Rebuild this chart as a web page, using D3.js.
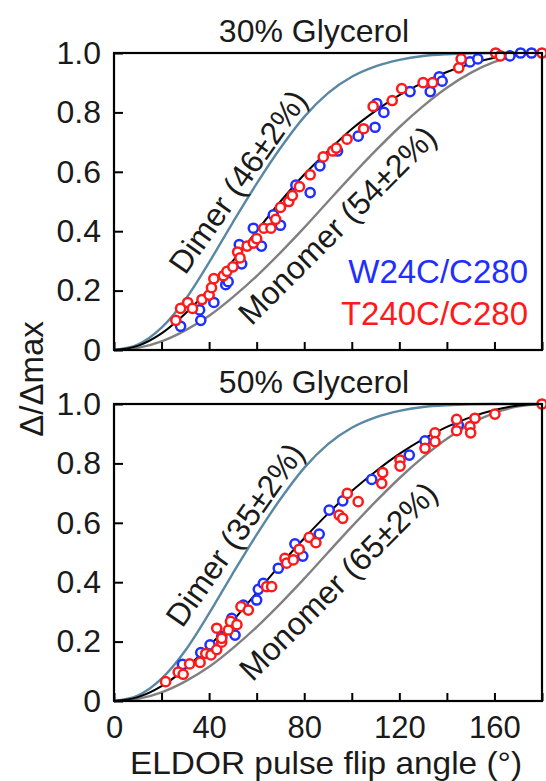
<!DOCTYPE html>
<html>
<head>
<meta charset="utf-8">
<script src="https://d3js.org/d3.v7.min.js"></script>
<style>
body { margin: 0; background: #fff; }
text { font-family: "Liberation Sans", Arial, sans-serif; fill: #1a1a1a; }
</style>
</head>
<body>
<script>
// axis ticks
var xTicks = [0, 20, 40, 60, 80, 100, 120, 140, 160, 180];
var xLabels = [0, 40, 80, 120, 160];
var yTicks = [0, 0.2, 0.4, 0.6, 0.8, 1.0];
var yLabels = ["0", "0.2", "0.4", "0.6", "0.8", "1.0"];

// simulated curves (every 10 deg)
var curveAngles = [0, 10, 20, 30, 40, 50, 60, 70, 80, 90, 100, 110, 120, 130, 140, 150, 160, 170, 180];
var dimerCurve = [0, 0.018, 0.075, 0.17, 0.295, 0.43, 0.56, 0.68, 0.785, 0.865, 0.92, 0.955, 0.977, 0.99, 0.996, 0.999, 1, 1, 1];
var monomerCurve = [0, 0.007, 0.029, 0.066, 0.115, 0.178, 0.249, 0.328, 0.412, 0.5, 0.587, 0.671, 0.75, 0.821, 0.883, 0.933, 0.97, 0.992, 1];
var fit30 = [0, 0.014, 0.056, 0.123, 0.206, 0.30, 0.40, 0.50, 0.591, 0.67, 0.744, 0.805, 0.858, 0.90, 0.936, 0.964, 0.984, 0.996, 1];
var fit50 = [0, 0.013, 0.050, 0.109, 0.185, 0.27, 0.365, 0.459, 0.548, 0.631, 0.707, 0.773, 0.832, 0.882, 0.923, 0.956, 0.98, 0.995, 1];

// 30% glycerol data [angle, value]
var w24c30 = [[28, 0.08], [36.5, 0.10], [36, 0.135], [42, 0.16], [47, 0.22], [48, 0.23], [53.7, 0.29], [52.7, 0.355],
  [58.6, 0.41], [62, 0.35], [67, 0.455], [70, 0.42], [76.5, 0.555], [82.5, 0.53], [86.6, 0.62], [94, 0.67],
  [102.7, 0.72], [109.8, 0.75], [110.5, 0.83], [113.5, 0.80], [124.5, 0.87], [133, 0.87], [136.8, 0.92],
  [138, 0.905], [149.7, 0.97], [153, 0.98], [166.5, 0.99], [171, 1.0], [175.6, 1.0]];
var t240c30 = [[26, 0.10], [28, 0.14], [31, 0.16], [33, 0.14], [37, 0.17], [40, 0.185], [41, 0.21], [42, 0.24],
  [46, 0.25], [47.5, 0.265], [50, 0.28], [52, 0.33], [53, 0.31], [56, 0.35], [58.6, 0.36], [60, 0.375],
  [63, 0.41], [66, 0.41], [68, 0.44], [70, 0.48], [73.5, 0.50], [75, 0.52], [78, 0.55], [82.5, 0.59],
  [88, 0.65], [92, 0.67], [93.5, 0.68], [98, 0.71], [105, 0.745], [109, 0.82], [117, 0.84], [121, 0.88],
  [130, 0.90], [134, 0.90], [145, 0.95], [146, 0.98], [160.5, 1.0], [162.5, 0.99], [180, 1.0]];

// 50% glycerol data
var w24c50 = [[28.8, 0.123], [36.5, 0.163], [40.4, 0.189], [45.3, 0.217], [49.5, 0.278], [50.9, 0.222],
  [54.4, 0.323], [60, 0.34], [60.7, 0.376], [62.8, 0.396], [69.1, 0.447], [76.1, 0.529], [79.4, 0.488],
  [86.3, 0.562], [90.5, 0.643], [96.2, 0.674], [108.4, 0.746], [124.2, 0.828], [130.8, 0.876], [144.8, 0.929]];
var t240c50 = [[21.7, 0.065], [27, 0.097], [29.1, 0.09], [31.8, 0.125], [36.2, 0.13], [38.6, 0.16], [40.8, 0.155],
  [43.2, 0.173], [43.2, 0.245], [45.3, 0.198], [45.3, 0.211], [48.1, 0.239], [49, 0.268], [51.7, 0.257],
  [53.4, 0.318], [56.5, 0.306], [64.2, 0.385], [66.3, 0.385], [71.9, 0.48], [72.6, 0.464], [75.4, 0.475],
  [77.9, 0.511], [82.1, 0.551], [84.9, 0.533], [94.7, 0.626], [96.2, 0.615], [98.1, 0.699], [102.7, 0.671],
  [112.6, 0.733], [113, 0.769], [120.3, 0.811], [120.3, 0.791], [130.8, 0.851], [135, 0.903], [135, 0.873],
  [144.1, 0.948], [144.1, 0.91], [149.7, 0.924], [150, 0.903], [151.8, 0.952], [160.2, 0.966], [180, 1.0]];

var blue = "#1f2fff";
var red = "#ff1a1a";
var dimerColor = "#5a88a4";
var monomerColor = "#808080";
var fontSize = 32;

var svg = d3.select('body').append('svg')
        .attr('width', 546)
        .attr('height', 781);

var x = d3.scaleLinear().domain([0, 180]).range([114, 542]);

function drawPanel(top, bottom, title, fitVals, blueData, redData, dimerText, dimerPos, monoText, monoPos, showXLabels) {
    var y = d3.scaleLinear().domain([0, 1]).range([bottom, top]);
    var g = svg.append('g');

    var line = d3.line()
            .x(function(d) { return x(d[0]); })
            .y(function(d) { return y(d[1]); })
            .curve(d3.curveMonotoneX);

    function pairs(vals) {
        return curveAngles.map(function(a, i) { return [a, vals[i]]; });
    }

    // curves
    g.append('path').attr('d', line(pairs(dimerCurve)))
        .attr('fill', 'none').attr('stroke', dimerColor).attr('stroke-width', 2.4);
    g.append('path').attr('d', line(pairs(monomerCurve)))
        .attr('fill', 'none').attr('stroke', monomerColor).attr('stroke-width', 2.4);
    g.append('path').attr('d', line(pairs(fitVals)))
        .attr('fill', 'none').attr('stroke', '#000').attr('stroke-width', 2);

    // data circles
    g.selectAll('circle.b').data(blueData).enter().append('circle')
        .attr('cx', function(d) { return x(d[0]); })
        .attr('cy', function(d) { return y(d[1]); })
        .attr('r', 4.6)
        .attr('fill', '#fff')
        .attr('stroke', blue)
        .attr('stroke-width', 2.5);
    g.selectAll('circle.r').data(redData).enter().append('circle')
        .attr('cx', function(d) { return x(d[0]); })
        .attr('cy', function(d) { return y(d[1]); })
        .attr('r', 4.6)
        .attr('fill', '#fff')
        .attr('stroke', red)
        .attr('stroke-width', 2.5);

    // axes with inward ticks
    var xAxis = d3.axisBottom(x).tickValues(xTicks).tickSize(-8).tickPadding(15)
        .tickFormat(function(d) { return (showXLabels && xLabels.indexOf(d) >= 0) ? d : ''; });
    var gx = g.append('g').attr('transform', 'translate(0,' + bottom + ')').call(xAxis);
    var yAxis = d3.axisLeft(y).tickValues(yTicks).tickSize(-9).tickPadding(13)
        .tickFormat(function(d, i) { return yLabels[i]; });
    var gy = g.append('g').attr('transform', 'translate(114,0)').call(yAxis);
    [gx, gy].forEach(function(a) {
        a.select('.domain').remove();
        a.selectAll('line').attr('stroke', '#000').attr('stroke-width', 2);
        a.attr('font-size', fontSize).attr('font-family', '"Liberation Sans", Arial, sans-serif');
        a.selectAll('text').attr('fill', '#1a1a1a');
    });
    gx.attr('font-size', 31);

    // frame
    g.append('rect')
        .attr('x', 114).attr('y', top)
        .attr('width', 542 - 114).attr('height', bottom - top)
        .attr('fill', 'none').attr('stroke', '#000').attr('stroke-width', 2.2);

    // title
    g.append('text').text(title)
        .attr('x', 314).attr('y', top - 11)
        .attr('text-anchor', 'middle')
        .attr('font-size', fontSize);

    // curve labels
    g.append('text').text(dimerText)
        .attr('text-anchor', 'middle')
        .attr('font-size', fontSize)
        .attr('transform', 'translate(' + dimerPos[0] + ',' + dimerPos[1] + ') rotate(-55)');
    g.append('text').text(monoText)
        .attr('text-anchor', 'middle')
        .attr('font-size', fontSize)
        .attr('transform', 'translate(' + monoPos[0] + ',' + monoPos[1] + ') rotate(-45)');
}

drawPanel(53, 350, '30% Glycerol', fit30, w24c30, t240c30,
    'Dimer (46\u00b12%)', [247, 188], 'Monomer (54\u00b12%)', [345, 233], false);
drawPanel(404, 701, '50% Glycerol', fit50, w24c50, t240c50,
    'Dimer (35\u00b12%)', [244, 541], 'Monomer (65\u00b12%)', [346, 589], true);

// legend
svg.append('text').text('W24C/C280')
    .attr('x', 528).attr('y', 283)
    .attr('text-anchor', 'end')
    .attr('font-size', 33)
    .style('fill', blue);
svg.append('text').text('T240C/C280')
    .attr('x', 528).attr('y', 325)
    .attr('text-anchor', 'end')
    .attr('font-size', 33)
    .style('fill', red);

// axis titles
svg.append('text').text('ELDOR pulse flip angle (\u00b0)')
    .attr('x', 326).attr('y', 774)
    .attr('text-anchor', 'middle')
    .attr('font-size', 32)
    .attr('textLength', 392)
    .attr('lengthAdjust', 'spacingAndGlyphs');
svg.append('text').text('\u0394/\u0394max')
    .attr('text-anchor', 'middle')
    .attr('font-size', 33)
    .attr('transform', 'translate(43,379) rotate(-90)');
</script>
</body>
</html>
